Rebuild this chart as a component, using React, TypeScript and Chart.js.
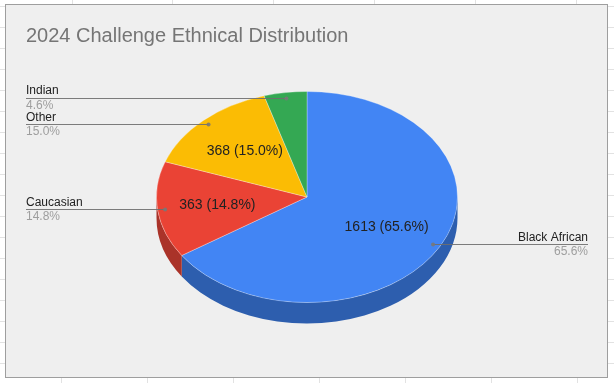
import React, { useEffect, useRef } from "react";
import { Chart, registerables } from "chart.js";

Chart.register(...registerables);

const categories = ["Black African", "Caucasian", "Other", "Indian"];
const values = [1613, 363, 368, 113];
const sliceColors = ["#4285f4", "#ea4335", "#fbbc04", "#34a853"];
const sideColors = ["#2d5eae", "#aa3329", "#b38603", "#25773c"];
const titleText = "2024 Challenge Ethnical Distribution";

const FONT = '"Liberation Sans", Arial, sans-serif';
const SQUASH = 0.701;
const DEPTH = 21;

const rowLines = Array.from({ length: 18 }, (_, k) => 6 + 21 * k);
const bottomCols = [61, 147, 233, 319, 405, 491, 577];
const topCols = [72, 172, 273, 374, 475, 576];

export default function App() {
  const ref = useRef<HTMLCanvasElement>(null);

  useEffect(() => {
    const total = values.reduce((a, b) => a + b, 0);
    const pct = (v: number) => ((v / total) * 100).toFixed(1) + "%";

    const plugin = {
      id: "pie3d",
      beforeDatasetsDraw(chart: any) {
        const ctx = chart.ctx as CanvasRenderingContext2D;
        const arcs = chart.getDatasetMeta(0).data as any[];
        if (!arcs.length) return;
        const cx = arcs[0].x;
        const cy = arcs[0].y;
        const rx = arcs[0].outerRadius;
        const ry = rx * SQUASH;
        arcs.forEach((arc: any, i: number) => {
          const lo = Math.max(arc.startAngle, 0);
          const hi = Math.min(arc.endAngle, Math.PI);
          if (hi <= lo) return;
          ctx.save();
          ctx.beginPath();
          ctx.ellipse(cx, cy, rx, ry, 0, lo, hi, false);
          ctx.ellipse(cx, cy + DEPTH, rx, ry, 0, hi, lo, true);
          ctx.closePath();
          ctx.fillStyle = sideColors[i];
          ctx.fill();
          ctx.restore();
        });
        ctx.save();
        ctx.translate(cx, cy);
        ctx.scale(1, SQUASH);
        ctx.translate(-cx, -cy);
      },
      afterDatasetsDraw(chart: any) {
        const ctx = chart.ctx as CanvasRenderingContext2D;
        ctx.restore();
        const arcs = chart.getDatasetMeta(0).data as any[];
        if (!arcs.length) return;
        const cx = arcs[0].x;
        const cy = arcs[0].y;
        const rx = arcs[0].outerRadius;
        const ry = rx * SQUASH;
        const W = chart.width;
        arcs.forEach((arc: any, i: number) => {
          const mid = (arc.startAngle + arc.endAngle) / 2;
          const c = Math.cos(mid);
          const s = Math.sin(mid);
          // inner label
          ctx.save();
          ctx.font = `14px ${FONT}`;
          ctx.fillStyle = "#222222";
          ctx.textAlign = "center";
          ctx.textBaseline = "middle";
          if (values[i] / total > 0.08) {
            ctx.fillText(
              `${values[i]} (${pct(values[i])})`,
              cx + 0.6 * rx * c,
              cy + 0.6 * ry * s
            );
          }
          // leader line
          const px = cx + 0.95 * rx * c;
          const py = cy + 0.95 * ry * s;
          const left = c < 0;
          const x0 = left ? 20 : W - 19;
          ctx.strokeStyle = "rgba(110,110,110,0.9)";
          ctx.lineWidth = 1;
          ctx.beginPath();
          ctx.moveTo(x0, Math.round(py) + 0.5);
          ctx.lineTo(px, Math.round(py) + 0.5);
          ctx.stroke();
          ctx.fillStyle = "rgba(120,120,120,0.9)";
          ctx.beginPath();
          ctx.arc(px, Math.round(py) + 0.5, 2, 0, Math.PI * 2);
          ctx.fill();
          ctx.textAlign = left ? "left" : "right";
          ctx.textBaseline = "alphabetic";
          ctx.font = `12px ${FONT}`;
          ctx.fillStyle = "#222222";
          ctx.fillText(categories[i], x0, py - 3.5);
          ctx.fillStyle = "#9e9e9e";
          ctx.fillText(pct(values[i]), x0, py + 10.8);
          ctx.restore();
        });
      },
      afterDraw(chart: any) {
        const ctx = chart.ctx as CanvasRenderingContext2D;
        ctx.save();
        ctx.font = `20px ${FONT}`;
        ctx.fillStyle = "#757575";
        ctx.textAlign = "left";
        ctx.textBaseline = "alphabetic";
        ctx.fillText(titleText, 20, 36.5);
        ctx.restore();
      },
    };

    const chart = new Chart(ref.current!, {
      type: "pie",
      data: {
        labels: categories,
        datasets: [
          {
            data: values,
            backgroundColor: sliceColors,
            borderColor: "rgba(255,255,255,0.35)",
            borderWidth: 1,
          },
        ],
      },
      options: {
        responsive: false,
        animation: false,
        events: [],
        layout: { padding: { left: 150, right: 149, top: 41, bottom: 29 } },
        plugins: {
          legend: { display: false },
          tooltip: { enabled: false },
          title: { display: false },
        },
      },
      plugins: [plugin as any],
    });
    return () => chart.destroy();
  }, []);

  return (
    <div
      style={{
        position: "fixed",
        left: 0,
        top: 0,
        width: 614,
        height: 383,
        background: "#ffffff",
        overflow: "hidden",
      }}
    >
      {rowLines.map((y) => (
        <div
          key={"r" + y}
          style={{ position: "absolute", left: 0, top: y, width: 614, height: 1, background: "#e2e2e2" }}
        />
      ))}
      {bottomCols.map((x) => (
        <div
          key={"b" + x}
          style={{ position: "absolute", left: x, top: 377, width: 1, height: 6, background: "#e2e2e2" }}
        />
      ))}
      {topCols.map((x) => (
        <div
          key={"t" + x}
          style={{ position: "absolute", left: x, top: 0, width: 1, height: 4, background: "#e2e2e2" }}
        />
      ))}
      <div
        style={{
          position: "absolute",
          left: 5,
          top: 4,
          width: 601,
          height: 372,
          border: "1px solid #9e9e9e",
          background: "#efefef",
        }}
      >
        <canvas ref={ref} width={601} height={372} style={{ display: "block" }} />
      </div>
    </div>
  );
}
